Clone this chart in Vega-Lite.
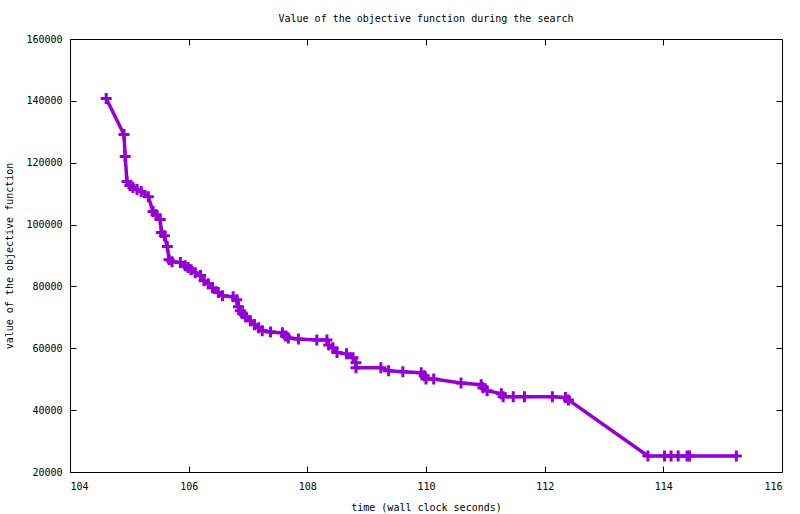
{
  "$schema": "https://vega.github.io/schema/vega-lite/v6.json",
  "width": 712,
  "height": 433,
  "autosize": "none",
  "padding": {"left": 70, "top": 39, "right": 18, "bottom": 42},
  "background": "white",
  "title": {
    "text": "Value of the objective function during the search",
    "font": "DejaVu Sans Mono",
    "fontSize": 10,
    "fontWeight": "normal",
    "color": "black",
    "offset": 10
  },
  "data": {
    "values": [
      {"t": 104.61, "v": 140750},
      {"t": 104.91, "v": 129100},
      {"t": 104.93, "v": 122000},
      {"t": 104.96, "v": 113900},
      {"t": 105.01, "v": 112600},
      {"t": 105.06, "v": 112000},
      {"t": 105.13, "v": 111300},
      {"t": 105.2, "v": 110700},
      {"t": 105.32, "v": 109000},
      {"t": 105.4, "v": 104200},
      {"t": 105.45, "v": 103200},
      {"t": 105.52, "v": 101600},
      {"t": 105.54, "v": 97400},
      {"t": 105.59, "v": 96400},
      {"t": 105.64, "v": 92900},
      {"t": 105.67, "v": 88600},
      {"t": 105.72, "v": 88000},
      {"t": 105.86, "v": 87700},
      {"t": 105.94, "v": 86700},
      {"t": 105.99, "v": 86100},
      {"t": 106.04, "v": 85400},
      {"t": 106.11, "v": 84400},
      {"t": 106.2, "v": 83500},
      {"t": 106.26, "v": 81800},
      {"t": 106.33, "v": 80900},
      {"t": 106.4, "v": 79600},
      {"t": 106.5, "v": 78000},
      {"t": 106.57, "v": 77000},
      {"t": 106.75, "v": 76700},
      {"t": 106.81, "v": 75700},
      {"t": 106.84, "v": 73400},
      {"t": 106.87, "v": 72100},
      {"t": 106.91, "v": 71200},
      {"t": 106.96, "v": 70200},
      {"t": 107.04, "v": 68900},
      {"t": 107.11, "v": 67600},
      {"t": 107.18, "v": 66600},
      {"t": 107.24, "v": 65700},
      {"t": 107.38, "v": 65300},
      {"t": 107.58, "v": 65000},
      {"t": 107.63, "v": 64000},
      {"t": 107.68, "v": 63300},
      {"t": 107.85, "v": 63000},
      {"t": 108.16, "v": 62700},
      {"t": 108.33, "v": 62700},
      {"t": 108.36, "v": 61100},
      {"t": 108.43, "v": 60200},
      {"t": 108.5, "v": 58600},
      {"t": 108.66, "v": 58200},
      {"t": 108.77, "v": 56900},
      {"t": 108.82, "v": 55300},
      {"t": 108.82, "v": 53700},
      {"t": 109.24, "v": 53700},
      {"t": 109.37, "v": 52700},
      {"t": 109.61, "v": 52400},
      {"t": 109.92, "v": 52100},
      {"t": 109.97, "v": 51100},
      {"t": 110.0, "v": 50100},
      {"t": 110.13, "v": 50100},
      {"t": 110.59, "v": 48800},
      {"t": 110.93, "v": 48200},
      {"t": 110.96, "v": 47200},
      {"t": 111.03, "v": 46300},
      {"t": 111.27, "v": 45300},
      {"t": 111.3, "v": 44300},
      {"t": 111.47, "v": 44300},
      {"t": 111.66, "v": 44300},
      {"t": 112.13, "v": 44300},
      {"t": 112.35, "v": 44100},
      {"t": 112.4, "v": 43300},
      {"t": 113.74, "v": 25200},
      {"t": 114.02, "v": 25200},
      {"t": 114.13, "v": 25200},
      {"t": 114.25, "v": 25200},
      {"t": 114.4, "v": 25200},
      {"t": 114.44, "v": 25200},
      {"t": 115.23, "v": 25200}
    ]
  },
  "layer": [
    {
      "layer": [
        {
          "mark": {"type": "line", "color": "#9400D3", "strokeWidth": 3.5}
        },
        {
          "mark": {
            "type": "point",
            "shape": "M-1,0H1M0,-1V1",
            "size": 121,
            "filled": false,
            "color": "#9400D3",
            "strokeWidth": 3,
            "opacity": 1
          }
        }
      ],
      "encoding": {
        "x": {
          "field": "t",
          "type": "quantitative",
          "scale": {"domain": [104, 116], "nice": false, "zero": false},
          "axis": {
            "title": "time (wall clock seconds)",
            "values": [104, 106, 108, 110, 112, 114, 116],
            "format": "d",
            "tickSize": -6,
            "labelPadding": 15,
            "titlePadding": 11
          }
        },
        "y": {
          "field": "v",
          "type": "quantitative",
          "scale": {"domain": [20000, 160000], "nice": false, "zero": false},
          "axis": {
            "title": "value of the objective function",
            "values": [20000, 40000, 60000, 80000, 100000, 120000, 140000, 160000],
            "format": "d",
            "tickSize": -6,
            "labelPadding": 14,
            "titlePadding": 11
          }
        }
      }
    },
    {
      "mark": {"type": "rule", "opacity": 0},
      "encoding": {
        "x": {
          "field": "t",
          "type": "quantitative",
          "axis": {"orient": "top", "values": [104, 106, 108, 110, 112, 114, 116], "tickSize": -6, "labels": false, "title": null, "domain": false}
        },
        "y": {
          "field": "v",
          "type": "quantitative",
          "axis": {"orient": "right", "values": [20000, 40000, 60000, 80000, 100000, 120000, 140000, 160000], "tickSize": -6, "labels": false, "title": null, "domain": false}
        }
      }
    }
  ],
  "resolve": {"axis": {"x": "independent", "y": "independent"}},
  "config": {
    "view": {"stroke": "black", "strokeWidth": 1},
    "axis": {
      "grid": false,
      "domainColor": "black",
      "tickColor": "black",
      "labelColor": "black",
      "titleColor": "black",
      "labelFont": "DejaVu Sans Mono",
      "titleFont": "DejaVu Sans Mono",
      "labelFontSize": 10,
      "titleFontSize": 10,
      "titleFontWeight": "normal"
    }
  }
}
